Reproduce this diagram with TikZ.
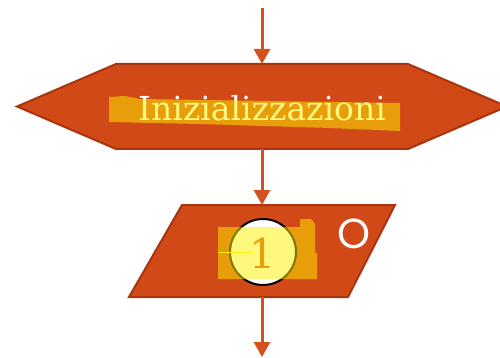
\documentclass[tikz,border=0pt]{standalone}
\usepackage{fontspec}
\newfontfamily\slabfont{DejaVu Serif}
\newfontfamily\ringfont{Poppins}
\usetikzlibrary{arrows.meta}

\definecolor{flow}{HTML}{D14917}
\definecolor{flowedge}{HTML}{A8350E}
\definecolor{linkcol}{HTML}{D4501D}

\tikzset{
  shapebox/.style={fill=flow, draw=flowedge, line width=2pt, line join=miter},
  linkarrow/.style={draw=linkcol, line width=3pt, -{Triangle[width=16pt,length=15pt]}},
  hilite/.style={fill=yellow, fill opacity=0.5},
  anchorbox/.style={inner sep=0pt, outer sep=0pt},
}

\begin{document}
\begin{tikzpicture}[x=1pt,y=-1pt]
\useasboundingbox (0,0) rectangle (500,358);

% flow entry and exit points
\coordinate (start) at (262,8);
\coordinate (stop) at (262,357);

% initialisation block (hexagon)
\node[anchorbox, minimum width=490pt, minimum height=85pt] (init) at (262,106.5) {};
\draw[shapebox] (17,106.5) -- (116,64) -- (408,64) -- (507,106.5) -- (408,149) -- (116,149) -- cycle;
\node[anchorbox, anchor=base, text=white, font=\slabfont\fontsize{33}{33}\selectfont] (initlabel) at (262,121) {Inizializzazioni};
\fill[hilite] (109,97) -- (125,96) -- (140,99) -- (400,103) -- (400,131) -- (330,128) -- (200,124) -- (109,122) -- cycle;

% input/output block (parallelogram)
\node[anchorbox, minimum width=266pt, minimum height=92pt] (io) at (262,251) {};
\draw[shapebox] (182,205) -- (395,205) -- (348,297) -- (129,297) -- cycle;

% numbered connector inside the block
\node[circle, draw=black, fill=white, line width=2pt, minimum size=66pt, inner sep=0pt] (conn) at (263,252) {};
\node[anchorbox, anchor=base, text=flow, font=\slabfont\fontsize{41}{41}\selectfont] (connlabel) at (263,268) {1};
\draw[yellow, line width=1pt] (218,252) -- (253,252);
\fill[hilite] (218,227) -- (300,227) -- (300,219) -- (311,219) -- (315,224) -- (315,253) -- (317,253) -- (317,279) -- (218,279) -- cycle;

% side mark
\node[anchorbox, text=white, font=\ringfont\fontsize{42}{42}\selectfont] (omark) at (354,234) {O};

% connectors
\draw[linkarrow] (start) -- (init.north);
\draw[linkarrow] (init.south) -- (io.north);
\draw[linkarrow] (io.south) -- (stop);
\end{tikzpicture}
\end{document}
